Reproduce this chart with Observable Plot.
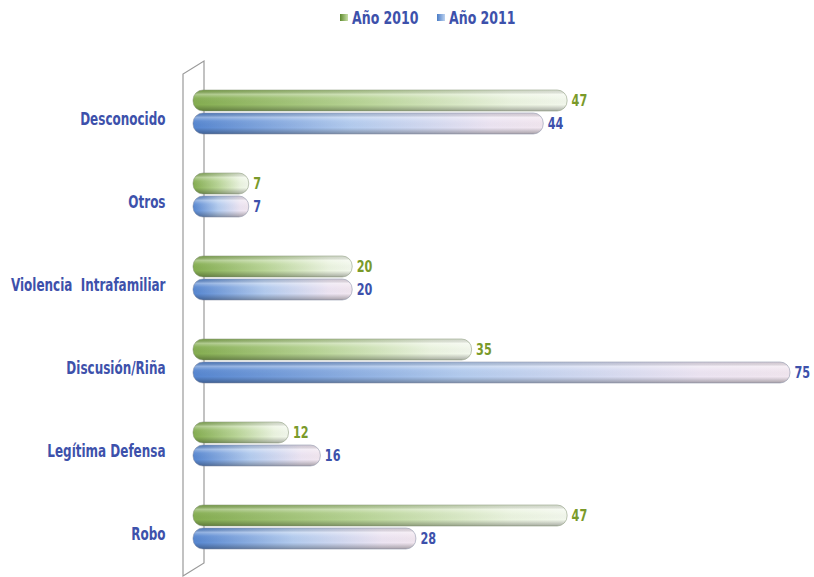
<!DOCTYPE html>
<html>
<head>
<meta charset="utf-8">
<script src="https://cdn.jsdelivr.net/npm/d3@7"></script>
<script src="https://cdn.jsdelivr.net/npm/@observablehq/plot@0.6"></script>
<style>
  body { margin: 0; background: #fff; }
  #legend { height: 36px; width: 814px; display: block; }
  #chart svg { display: block; }
</style>
</head>
<body>
<svg id="legend"></svg>
<div id="chart"></div>
<script>
const categories = ["Desconocido", "Otros", "Violencia  Intrafamiliar", "Discusión/Riña", "Legítima Defensa", "Robo"];
const series = ["Año 2010", "Año 2011"];
const values2010 = [47, 7, 20, 35, 12, 47];
const values2011 = [44, 7, 20, 75, 16, 28];

const green = "#7a9a2a";
const blue = "#3d51ab";
const FONT = "'DejaVu Sans Condensed', 'DejaVu Sans', sans-serif";

const rows2010 = categories.map((c, i) => ({cat: c, v: values2010[i]}));
const rows2011 = categories.map((c, i) => ({cat: c, v: values2011[i]}));

const W = 814, H = 541, ML = 193;
const half = 23;

const plot = Plot.plot({
  width: W, height: H,
  marginLeft: ML, marginRight: 24, marginTop: 35, marginBottom: 10,
  style: {fontFamily: FONT, fontSize: "18px", fontWeight: "bold", color: blue, background: "#fff"},
  x: {domain: [0, 75], axis: null},
  y: {domain: categories, paddingInner: 0.475, paddingOuter: 0.2, label: null, tickSize: 0, tickPadding: 28},
  marks: [
    Plot.barX(rows2010, {x: "v", y: "cat", insetBottom: half, fill: "url(#g2010)", rx: 10}),
    Plot.barX(rows2010, {x: "v", y: "cat", insetBottom: half, fill: "url(#shade)", rx: 10, stroke: "#7d8c6c", strokeWidth: 0.7, strokeOpacity: 0.7}),
    Plot.barX(rows2011, {x: "v", y: "cat", insetTop: half, fill: "url(#g2011)", rx: 10}),
    Plot.barX(rows2011, {x: "v", y: "cat", insetTop: half, fill: "url(#shade)", rx: 10, stroke: "#7d849e", strokeWidth: 0.7, strokeOpacity: 0.7}),
    Plot.text(rows2010, {x: "v", y: "cat", text: d => d.v, dx: 4, dy: -11.5, textAnchor: "start", fill: green, fontSize: 16, fontWeight: "bold", className: "vlab"}),
    Plot.text(rows2011, {x: "v", y: "cat", text: d => d.v, dx: 4, dy: 11.5, textAnchor: "start", fill: blue, fontSize: 16, fontWeight: "bold", className: "vlab"})
  ]
});

const svg = d3.select(plot);
const defs = svg.insert("defs", ":first-child");
function hgrad(d, id, stops) {
  const g = d.append("linearGradient").attr("id", id).attr("x1", 0).attr("x2", 1).attr("y1", 0).attr("y2", 0);
  stops.forEach(([o, c]) => g.append("stop").attr("offset", o).attr("stop-color", c));
}
hgrad(defs, "g2010", [[0, "#84ad50"], [0.45, "#b8d496"], [0.85, "#eaf3df"], [1, "#f2f7ec"]]);
hgrad(defs, "g2011", [[0, "#5686d0"], [0.45, "#b3cbee"], [0.85, "#ece4f2"], [1, "#f1e6ef"]]);
const sh = defs.append("linearGradient").attr("id", "shade").attr("x1", 0).attr("x2", 0).attr("y1", 0).attr("y2", 1);
[[0, "#000", 0.08], [0.2, "#fff", 0.35], [0.38, "#fff", 0.05], [0.7, "#000", 0.0], [1, "#000", 0.3]].forEach(([o, c, a]) =>
  sh.append("stop").attr("offset", o).attr("stop-color", c).attr("stop-opacity", a));

// 3D wall behind the bars
const wl = ML - 10, wr = ML + 11, wTop = 25, wBot = H - 1, skew = 13;
svg.insert("path", "g")
  .attr("d", `M${wl},${wBot} L${wl},${wTop + skew} L${wr},${wTop} L${wr},${wBot - skew} Z`)
  .attr("fill", "none").attr("stroke", "#9a9a9a").attr("stroke-width", 1.2);

document.getElementById("chart").appendChild(plot);

function condense(sel, f) {
  sel.each(function() {
    const len = this.getComputedTextLength();
    this.setAttribute("textLength", len * f);
    this.setAttribute("lengthAdjust", "spacingAndGlyphs");
  });
}
const yTicks = svg.selectAll("[aria-label='y-axis tick label'] text, [aria-label='y-axis'] text");
yTicks.attr("dy", "7");
condense(yTicks, 0.74);
condense(svg.selectAll(".vlab text"), 0.78);

// legend (drawn above the plot's svg)
const lg = d3.select("#legend");
const ldefs = lg.append("defs");
hgrad(ldefs, "lg2010", [[0, "#5e8a2e"], [1, "#c9e0a8"]]);
hgrad(ldefs, "lg2011", [[0, "#4a7cc6"], [1, "#bcd2f0"]]);
const items = [[series[0], "url(#lg2010)", 340], [series[1], "url(#lg2011)", 437]];
items.forEach(([t, f, x]) => {
  lg.append("rect").attr("x", x).attr("y", 14).attr("width", 8).attr("height", 7).attr("fill", f);
  lg.append("text").attr("x", x + 12).attr("y", 23.5).text(t)
    .attr("font-family", FONT).attr("font-weight", "bold").attr("font-size", 17).attr("fill", blue);
});
condense(lg.selectAll("text"), 0.82);
</script>
</body>
</html>
